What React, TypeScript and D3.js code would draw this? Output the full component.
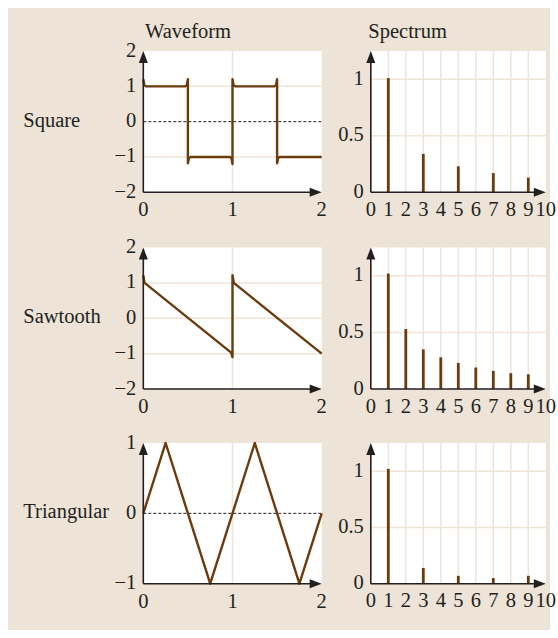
import React from "react";
import * as d3 from "d3";

// ---- data ----
const rowLabels = ["Square", "Sawtooth", "Triangular"];

// waveform samples [time, value], with the overshoot hooks at the edges
const squareWave: [number, number][] = [
  [0, 1.2], [0.012, 1.03], [0.03, 1.0], [0.47, 1.0], [0.488, 1.03], [0.5, 1.2],
  [0.5, -1.18], [0.512, -1.03], [0.53, -1.0], [0.97, -1.0], [0.988, -1.03], [1.0, -1.2],
  [1.0, 1.2], [1.012, 1.03], [1.03, 1.0], [1.47, 1.0], [1.488, 1.03], [1.5, 1.2],
  [1.5, -1.18], [1.512, -1.03], [1.53, -1.0], [2.0, -1.0],
];
const sawtoothWave: [number, number][] = [
  [0, 1.22], [0.014, 1.0], [0.985, -0.97], [1.0, -1.1],
  [1.0, 1.22], [1.014, 1.0], [2.0, -1.0],
];
const triangleWave: [number, number][] = [
  [0, 0], [0.25, 1], [0.75, -1], [1.25, 1], [1.75, -1], [2, 0],
];

// spectral lines: harmonic number and amplitude
const squareHarmonics = [1, 3, 5, 7, 9];
const squareAmplitudes = [1.01, 0.34, 0.23, 0.17, 0.13];
const sawtoothHarmonics = [1, 2, 3, 4, 5, 6, 7, 8, 9];
const sawtoothAmplitudes = [1.02, 0.53, 0.35, 0.28, 0.23, 0.19, 0.16, 0.14, 0.13];
const triangleHarmonics = [1, 3, 5, 7, 9];
const triangleAmplitudes = [1.02, 0.14, 0.07, 0.05, 0.07];

// ticks
const timeTicks = [0, 1, 2];
const waveTicksWide = [-2, -1, 0, 1, 2];
const waveTicksNarrow = [-1, 0, 1];
const harmonicTicks = [0, 1, 2, 3, 4, 5, 6, 7, 8, 9, 10];
const spectrumTicks = [0, 0.5, 1];
const spectrumGridX = [1, 2, 3, 4, 5, 6, 7, 8, 9];

// ---- styling / layout ----
const FONT = "'Liberation Serif', 'Times New Roman', serif";
const FS = 20.5;
const BG = "#ede3d7";
const GRID = "#efe4d8";
const BROWN = "#6b3b0e";
const INK = "#231f20";

const waveX0 = 143.3;
const waveX1 = 321.7;
const specX0 = 370.8;
const specX1 = 545.8;
const rowTops = [51, 247.5, 443];
const rowBottoms = [192.3, 389, 583.7];

const fmt = (v: number) => (v < 0 ? "\u2212" + Math.abs(v) : String(v));

type Panel = {
  wave: [number, number][];
  waveDomain: [number, number];
  waveTicks: number[];
  hGrid: number[];
  dashedZero: boolean;
  harmonics: number[];
  amps: number[];
};

const panels: Panel[] = [
  { wave: squareWave, waveDomain: [-2, 2], waveTicks: waveTicksWide, hGrid: [-1, 1], dashedZero: true, harmonics: squareHarmonics, amps: squareAmplitudes },
  { wave: sawtoothWave, waveDomain: [-2, 2], waveTicks: waveTicksWide, hGrid: [-1, 0, 1], dashedZero: false, harmonics: sawtoothHarmonics, amps: sawtoothAmplitudes },
  { wave: triangleWave, waveDomain: [-1, 1], waveTicks: waveTicksNarrow, hGrid: [], dashedZero: true, harmonics: triangleHarmonics, amps: triangleAmplitudes },
];

function Axes({ x0, x1, top, bottom }: { x0: number; x1: number; top: number; bottom: number }) {
  const L = 12;
  const W = 4.5;
  return (
    <g>
      <line x1={x0} y1={bottom} x2={x0} y2={top + 6} stroke={INK} strokeWidth={1.6} />
      <line x1={x0} y1={bottom} x2={x1 - 6} y2={bottom} stroke={INK} strokeWidth={1.6} />
      <path d={`M${x0},${top} L${x0 - W},${top + L} L${x0 + W},${top + L} Z`} fill={INK} />
      <path d={`M${x1},${bottom} L${x1 - L},${bottom - W} L${x1 - L},${bottom + W} Z`} fill={INK} />
    </g>
  );
}

function Row({ p, i }: { p: Panel; i: number }) {
  const top = rowTops[i];
  const bottom = rowBottoms[i];
  const tx = d3.scaleLinear().domain([0, 2]).range([waveX0, waveX1]);
  const wy = d3.scaleLinear().domain(p.waveDomain).range([bottom, top]);
  const hx = d3.scaleLinear().domain([0, 10]).range([specX0, specX1]);
  const sy = d3.scaleLinear().domain([0, 1.25]).range([bottom, top]);
  const line = d3.line<[number, number]>().x((d) => tx(d[0])).y((d) => wy(d[1]));

  return (
    <g>
      <text x={23.3} y={wy(0) + 5} fontSize={FS} fill={INK}>{rowLabels[i]}</text>

      {/* waveform panel */}
      <rect x={waveX0} y={top} width={waveX1 - waveX0} height={bottom - top} fill="#fff" />
      <line x1={tx(1)} x2={tx(1)} y1={top} y2={bottom} stroke={GRID} strokeWidth={1.5} />
      {p.hGrid.map((v) => (
        <line key={v} x1={waveX0} x2={waveX1} y1={wy(v)} y2={wy(v)} stroke={GRID} strokeWidth={1.5} />
      ))}
      {p.dashedZero && (
        <line x1={waveX0} x2={waveX1} y1={wy(0)} y2={wy(0)} stroke={INK} strokeWidth={1} strokeDasharray="3,2" />
      )}
      <path d={line(p.wave) || ""} fill="none" stroke={BROWN} strokeWidth={2.4} strokeLinejoin="round" />
      <Axes x0={waveX0} x1={waveX1} top={top} bottom={bottom} />
      {p.waveTicks.map((v) => (
        <text key={v} x={waveX0 - 7} y={wy(v) + 5.5} fontSize={FS} textAnchor="end" fill={INK}>{fmt(v)}</text>
      ))}
      {timeTicks.map((v) => (
        <text key={v} x={tx(v)} y={bottom + 24} fontSize={FS} textAnchor="middle" fill={INK}>{fmt(v)}</text>
      ))}

      {/* spectrum panel */}
      <rect x={specX0} y={top} width={specX1 - specX0} height={bottom - top} fill="#fff" />
      {spectrumGridX.map((v) => (
        <line key={v} x1={hx(v)} x2={hx(v)} y1={top} y2={bottom} stroke={GRID} strokeWidth={1.5} />
      ))}
      {[0.5, 1].map((v) => (
        <line key={v} x1={specX0} x2={specX1} y1={sy(v)} y2={sy(v)} stroke={GRID} strokeWidth={1.5} />
      ))}
      {p.harmonics.map((h, k) => (
        <rect key={h} x={hx(h) - 1.4} y={sy(p.amps[k])} width={2.8} height={sy(0) - sy(p.amps[k])} fill={BROWN} />
      ))}
      <Axes x0={specX0} x1={specX1} top={top} bottom={bottom} />
      {spectrumTicks.map((v) => (
        <text key={v} x={specX0 - 7} y={sy(v) + 5.5} fontSize={FS} textAnchor="end" fill={INK}>{String(v)}</text>
      ))}
      {harmonicTicks.map((v) => (
        <text key={v} x={hx(v)} y={bottom + 23.5} fontSize={FS} textAnchor="middle" fill={INK}>{String(v)}</text>
      ))}
    </g>
  );
}

export default function App() {
  return (
    <svg
      width={558}
      height={638}
      style={{ position: "absolute", left: 0, top: 0 }}
      fontFamily={FONT}
    >
      <rect x={0} y={0} width={558} height={638} fill="#fff" />
      <rect x={8} y={8} width={542} height={622} fill={BG} />
      <text x={145} y={38.3} fontSize={FS} fill={INK}>Waveform</text>
      <text x={368.3} y={38} fontSize={FS} fill={INK}>Spectrum</text>
      {panels.map((p, i) => (
        <Row key={i} p={p} i={i} />
      ))}
    </svg>
  );
}
